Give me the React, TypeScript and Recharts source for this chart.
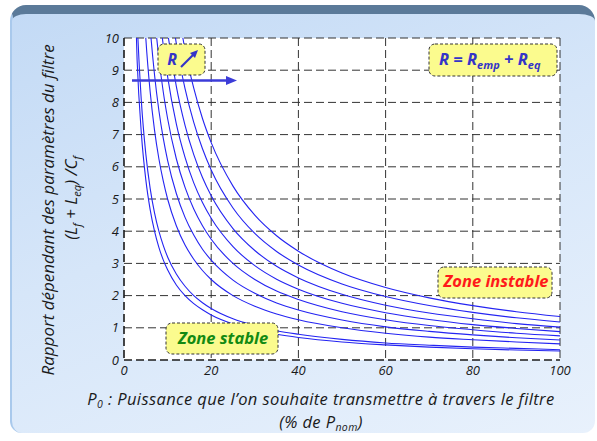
import React from 'react';
import { LineChart, Line, XAxis, YAxis, CartesianGrid } from 'recharts';

// P0 (% de Pnom) sample points shared by every curve
const P0 = [2, 3, 4, 5, 6, 7, 8, 9, 10, 12, 14, 16, 18, 20, 25, 30, 35, 40, 50, 60, 70, 80, 90, 100];

// limit ratio (Lf + Leq)/Cf, R growing from R1 to R9
const R1 = [14, 9.33, 7, 5.6, 4.67, 4, 3.5, 3.11, 2.8, 2.33, 2, 1.75, 1.56, 1.4, 1.12, 0.93, 0.8, 0.7, 0.56, 0.47, 0.4, 0.35, 0.31, 0.28];
const R2 = [16, 10.67, 8, 6.4, 5.33, 4.57, 4, 3.56, 3.2, 2.67, 2.29, 2, 1.78, 1.6, 1.28, 1.07, 0.91, 0.8, 0.64, 0.53, 0.46, 0.4, 0.36, 0.32];
const R3 = [25, 16.67, 12.5, 10, 8.33, 7.14, 6.25, 5.56, 5, 4.17, 3.57, 3.13, 2.78, 2.5, 2, 1.67, 1.43, 1.25, 1, 0.83, 0.71, 0.63, 0.56, 0.5];
const R4 = [31, 20.67, 15.5, 12.4, 10.33, 8.86, 7.75, 6.89, 6.2, 5.17, 4.43, 3.88, 3.44, 3.1, 2.48, 2.07, 1.77, 1.55, 1.24, 1.03, 0.89, 0.78, 0.69, 0.62];
const R5 = [37.5, 25, 18.75, 15, 12.5, 10.71, 9.38, 8.33, 7.5, 6.25, 5.36, 4.69, 4.17, 3.75, 3, 2.5, 2.14, 1.88, 1.5, 1.25, 1.07, 0.94, 0.83, 0.75];
const R6 = [44, 29.33, 22, 17.6, 14.67, 12.57, 11, 9.78, 8.8, 7.33, 6.29, 5.5, 4.89, 4.4, 3.52, 2.93, 2.51, 2.2, 1.76, 1.47, 1.26, 1.1, 0.98, 0.88];
const R7 = [51, 34, 25.5, 20.4, 17, 14.57, 12.75, 11.33, 10.2, 8.5, 7.29, 6.38, 5.67, 5.1, 4.08, 3.4, 2.91, 2.55, 2.04, 1.7, 1.46, 1.28, 1.13, 1.02];
const R8 = [59, 39.33, 29.5, 23.6, 19.67, 16.86, 14.75, 13.11, 11.8, 9.83, 8.43, 7.38, 6.56, 5.9, 4.72, 3.93, 3.37, 2.95, 2.36, 1.97, 1.69, 1.48, 1.31, 1.18];
const R9 = [67.5, 45, 33.75, 27, 22.5, 19.29, 16.88, 15, 13.5, 11.25, 9.64, 8.44, 7.5, 6.75, 5.4, 4.5, 3.86, 3.38, 2.7, 2.25, 1.93, 1.69, 1.5, 1.35];

const X_TICKS = [0, 20, 40, 60, 80, 100];
const Y_TICKS = [0, 1, 2, 3, 4, 5, 6, 7, 8, 9, 10];

const SERIES = [R1, R2, R3, R4, R5, R6, R7, R8, R9];

const data = P0.map((p, i) => {
  const row: Record<string, number> = { p };
  SERIES.forEach((s, j) => {
    row[`r${j + 1}`] = s[i];
  });
  return row;
});

const FONT = '"Open Sans", sans-serif';
const BLUE = '#2424f2';
const BOX = '#fbfb8e';

const Box = ({ x, y, w, h }: { x: number; y: number; w: number; h: number }) => (
  <rect x={x} y={y} width={w} height={h} rx={6} fill={BOX} stroke="#333" strokeWidth={1} strokeDasharray="3 2" />
);

export default function App() {
  return (
    <div style={{ position: 'absolute', left: 0, top: 0, width: 597, height: 441, background: '#fff', overflow: 'hidden' }}>
      <div
        style={{
          position: 'absolute',
          left: 10,
          top: 5,
          width: 585,
          height: 428,
          boxSizing: 'border-box',
          borderRadius: '16px 16px 12px 12px',
          borderTop: '9px solid #5b7a99',
          borderLeft: '2px solid #a9c9ec',
          background: 'linear-gradient(160deg, #c3daf5 0%, #d6e6f9 45%, #e8f1fc 100%)',
        }}
      />
      <div style={{ position: 'absolute', left: 0, top: 0 }}>
        <LineChart width={597} height={441} data={data} margin={{ top: 38, right: 37, bottom: 51, left: 0 }}>
          <CartesianGrid fill="#fff" stroke="#333" strokeDasharray="8 4" horizontalValues={Y_TICKS} verticalValues={X_TICKS} />
          <XAxis
            dataKey="p"
            type="number"
            domain={[0, 100]}
            ticks={X_TICKS}
            height={30}
            tickLine={false}
            tickSize={4}
            tickMargin={2}
            axisLine={{ stroke: '#111', strokeDasharray: '8 4', strokeWidth: 1.2 }}
            tick={{ fill: '#1a1a1a', fontSize: 13, fontStyle: 'italic', fontFamily: FONT }}
          />
          <YAxis
            type="number"
            domain={[0, 10]}
            ticks={Y_TICKS}
            allowDataOverflow
            width={124}
            tickLine={false}
            tickSize={4}
            tickMargin={1}
            axisLine={{ stroke: '#111', strokeDasharray: '8 4', strokeWidth: 1.2 }}
            tick={{ fill: '#1a1a1a', fontSize: 13, fontStyle: 'italic', fontFamily: FONT }}
          />
          {SERIES.map((_, j) => (
            <Line
              key={j}
              dataKey={`r${j + 1}`}
              type="monotone"
              stroke={BLUE}
              strokeWidth={1.1}
              dot={false}
              isAnimationActive={false}
            />
          ))}
        </LineChart>
      </div>
      <svg width={597} height={441} style={{ position: 'absolute', left: 0, top: 0, pointerEvents: 'none' }} fontFamily={FONT}>
        {/* R arrow box */}
        <Box x={158} y={44} w={47} h={31} />
        <text x={172} y={65} textAnchor="middle" fontSize={16} fontWeight="bold" fontStyle="italic" fill="#3434c8">R</text>
        <line x1={181} y1={67} x2={193} y2={55} stroke="#3434c8" strokeWidth={2.2} />
        <polygon points="198,50 190,53 195,58" fill="#3434c8" />
        {/* horizontal arrow */}
        <line x1={132} y1={80.5} x2={228} y2={80.5} stroke="#3c3cd8" strokeWidth={2.5} />
        <polygon points="237,80.5 226,76 226,85" fill="#3c3cd8" />
        {/* R = Remp + Req */}
        <Box x={429} y={44} w={128} h={32} />
        <text x={439} y={65} fontSize={16.5} fontWeight="bold" fontStyle="italic" fill="#3434c8">
          R = R<tspan dy={4} fontSize={11}>emp</tspan>
          <tspan dy={-4}> + R</tspan>
          <tspan dy={4} fontSize={11}>eq</tspan>
        </text>
        {/* Zone instable */}
        <Box x={438} y={267} w={114} h={31} />
        <text x={496} y={287} textAnchor="middle" fontSize={16.5} fontWeight="bold" fontStyle="italic" fill="#ff1a1a">Zone instable</text>
        {/* Zone stable */}
        <Box x={166} y={323} w={112} h={31} />
        <text x={223} y={344} textAnchor="middle" fontSize={16.5} fontWeight="bold" fontStyle="italic" fill="#138a13">Zone stable</text>
        {/* axis titles */}
        <text transform="translate(54,210) rotate(-90)" textAnchor="middle" fontSize={17} fontStyle="italic" fill="#1a1a1a">
          Rapport dépendant des paramètres du filtre
        </text>
        <text transform="translate(77,198) rotate(-90)" textAnchor="middle" fontSize={17} fontStyle="italic" fill="#1a1a1a">
          (L<tspan dy={4} fontSize={11}>f</tspan>
          <tspan dy={-4}> + L</tspan>
          <tspan dy={4} fontSize={11}>eq</tspan>
          <tspan dy={-4}>) /C</tspan>
          <tspan dy={4} fontSize={11}>f</tspan>
        </text>
        <text x={321} y={405} textAnchor="middle" fontSize={16.5} letterSpacing={0.4} fontStyle="italic" fill="#1a1a1a">
          P<tspan dy={3} fontSize={10.5}>0</tspan>
          <tspan dy={-3}> : Puissance que l’on souhaite transmettre à travers le filtre</tspan>
        </text>
        <text x={321} y={428} textAnchor="middle" fontSize={16.5} letterSpacing={0.4} fontStyle="italic" fill="#1a1a1a">
          (% de P<tspan dy={3} fontSize={10.5}>nom</tspan>
          <tspan dy={-3}>)</tspan>
        </text>
      </svg>
    </div>
  );
}
